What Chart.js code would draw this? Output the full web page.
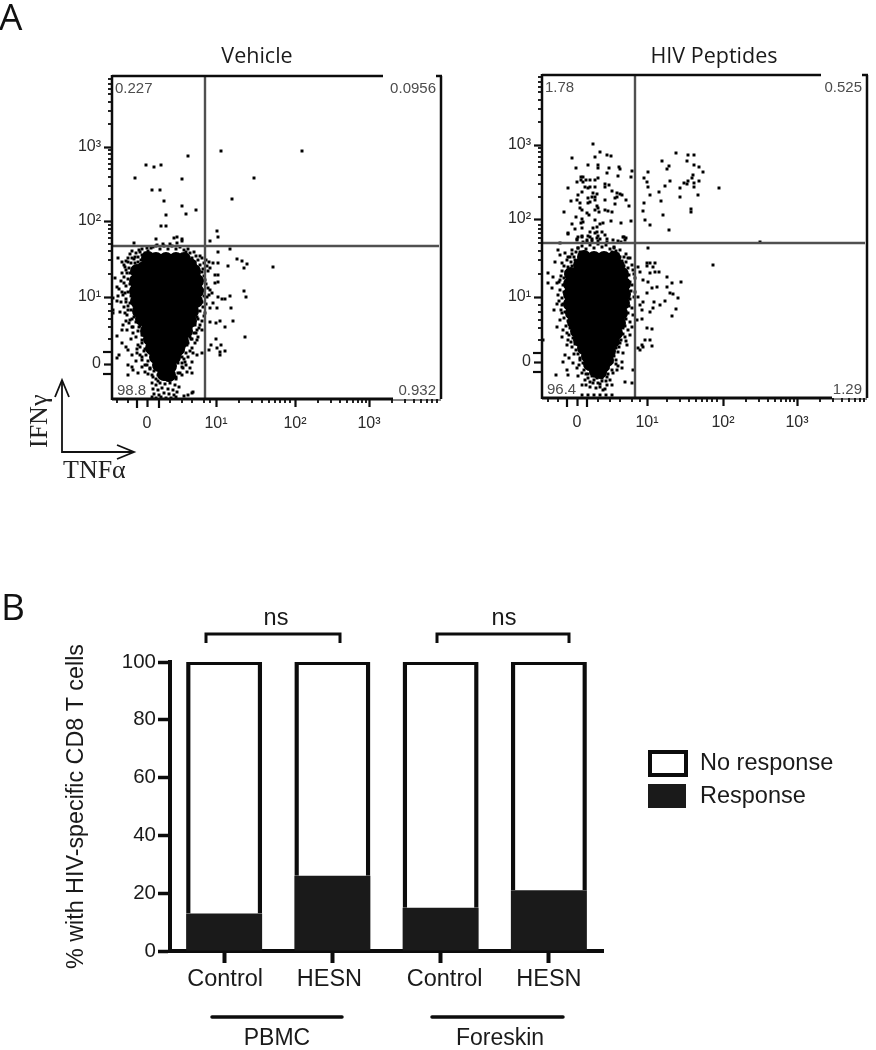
<!DOCTYPE html>
<html><head><meta charset="utf-8">
<script src="https://cdn.jsdelivr.net/npm/chart.js@4"></script>
<style>
html,body{margin:0;padding:0;background:#fff;width:876px;height:1050px;overflow:hidden}
canvas{position:absolute}
</style></head><body>
<canvas id="c1" style="left:0;top:0"></canvas>
<canvas id="c2" style="left:450px;top:0"></canvas>
<canvas id="c3" style="left:0;top:590px"></canvas>
<script>
// ---- Panel A: events in display channels (x = TNFa channel, y = IFNg channel)
const vehicleEvents=[[76,243],[109,248],[190,248],[34,234],[42,232],[49,234],[23,221],[70,220],[142,221],[40,209],[48,209],[120,200],[52,198],[70,193],[84,189],[74,185],[54,184],[49,173],[54,173],[105,168],[106,162],[44,160],[62,161],[65,162],[70,160],
[22,156],[70,158],[98,158],[45,154],[51,155],[58,155],[65,156],[106,147],[118,150],[97,137],[101,136],[106,136],[116,133],[125,140],[130,138],[135,135],[132,131],[161,132],[98,131],[103,124],[106,124],[106,117],[103,116],[98,109],[100,106],[132,108],[134,102],[118,103],[113,100],[110,100],[106,102],[101,96],[98,91],[105,91],[119,91],[121,78],[108,78],[104,76],[113,72],[98,77],[133,62],[104,60],[99,54],[109,54],[105,51],[113,48],[108,47],[108,44],[97,49],
[6,141],[10,137],[12,134],[10,126],[15,126],[3,121],[5,112],[12,116],[10,107],[13,106],[1,101],[5,98],[1,89],[1,86],[9,97],[14,97],[8,87],[13,86],[16,89],[18,79],[11,74],[10,69],[5,63],[15,69],[20,72],[21,66],[10,56],[14,52],[16,49],[5,41],[7,44],[20,44],[25,46],[26,54],[30,59],[31,64],[16,34],[20,32],[21,29],[16,24],[26,26],[33,27],[30,39],[35,34],[30,32],[28,147],[23,142],[16,137],[20,141],[13,132],[35,151],[41,152],[76,150],[82,147],[88,143],
[92,136],[90,127],[93,119],[88,112],[95,102],[91,92],[93,86],[85,82],[88,74],[90,69],[85,69],[81,79],[78,76],[85,59],[78,62],[90,46],[85,44],[81,46],[75,54],[80,51],[71,49],[76,42],[80,37],[73,37],[70,42],[78,31],[75,27],[71,31],[80,26],[68,26],[24,62],[27,72],[22,82],[19,60],[28,44],[33,50],[24,38],[38,30],[40,24],[70,36],[74,46],[80,60],[84,66],
[40,16],[44,14],[48,16],[53,15],[58,16],[63,14],[67,12],[41,10],[46,9],[50,11],[56,10],[61,9],[65,7],[42,5],[47,4],[52,6],[57,5],[62,4],[40,2],[44,1],[49,2],[54,1],[59,1],[64,2],[80,6],[76,4],[81,7],[72,3],[52,20],[56,19],[60,21],[48,22],[64,20],[46,18],
[20,148],[24,146],[27,149],[30,150],[18,145],[22,140],[26,142],[30,144],[33,146],[36,148],[16,141],[14,138],[19,136],[23,136],[26,137],[29,139],[17,131],[21,130],[24,132],[14,129],[18,126],[22,125],[25,128],[12,122],[16,120],[20,121],[23,118],[9,118],[14,113],[18,115],[21,112],[25,110],[7,110],[11,104],[16,107],[19,103],[23,102],[26,99],[6,103],[14,100],[18,96],[22,93],[25,91],[12,92],[16,93],[19,89],[23,85],[27,82],[15,84],[20,80],[24,77],[28,73],[17,76],[21,72],[26,68],[30,64],[14,78],[39,151],[44,153],[48,150],[52,153],[56,150],[60,153],[64,150],[68,152],
[72,149],[78,146],[84,143],[80,141],[74,147],[86,139],[90,141],[83,137],[88,134],[94,139],[86,130],[91,130],[95,133],[87,125],[92,123],[96,128],[88,119],[94,115],[87,112],[91,109],[96,111],[86,105],[92,103],[97,104],[85,99],[90,97],[94,95],[84,92],[88,88],[92,83],[82,86],[86,80],[90,78],[80,82],[83,74],[87,71],[79,72],[82,66],[86,62],[76,66],[79,60],[83,56],
[30,56],[33,60],[36,62],[28,52],[32,48],[36,54],[38,58],[25,50],[34,44],[38,46],[41,50],[30,42],[36,38],[40,40],[44,36],[33,34],[38,31],[42,28],[45,30],[36,25],[41,22],[46,24],[44,20],[48,26],[66,55],[70,58],[74,60],[68,48],[72,52],[76,56],[64,42],[68,44],[72,40],[78,48],[66,36],[70,32],[74,34],[62,30],[66,26],[60,26],[64,22],[70,24],[58,22]];
const vehicleCore=[[44,140],[54,140],[64,140],[36,141],[72,140],[32,131],[42,131],[52,131],[62,131],[72,131],[78,134],[25,128],[30,122],[40,122],[50,122],[60,122],[70,122],[78,122],[82,128],[24,118],[85,118],[30,113],[40,113],[50,113],[60,113],[70,113],[78,113],[24,108],[85,108],[30,104],[40,104],[50,104],[60,104],[70,104],[78,104],[25,98],[84,98],[32,95],[42,95],[52,95],[62,95],[72,95],[77,95],[27,88],[80,88],[33,86],[43,86],[53,86],[63,86],[73,86],[30,80],[78,78],[36,77],[46,77],[56,77],[66,77],[70,77],[35,68],[74,68],[40,68],[50,68],[60,68],[66,68],[38,60],[70,58],[44,59],[54,59],[62,59],[40,51],[66,50],[46,50],[56,50],[60,50],[44,42],[62,42],[49,41],[57,41],[47,34],[58,33],[52,33],[52,25],[57,24]];
const hivEvents=[[51,254],[58,246],[53,241],[30,240],[65,243],[69,242],[46,233],[56,233],[56,230],[34,230],[67,230],[77,231],[78,229],[90,227],[65,225],[76,222],[89,221],[39,221],[41,221],[39,218],[41,216],[35,216],[44,218],[48,218],[53,218],[56,220],[43,211],[48,211],[53,211],[63,214],[63,211],[67,213],[26,210],[40,206],[46,210],[36,203],[51,205],[55,204],[50,201],[53,201],[70,207],[75,205],[78,204],[80,203],[35,198],[46,200],[48,196],[53,198],[63,198],[73,200],[75,201],[29,197],[84,198],[38,195],[73,194],[46,195],[55,192],[56,190],[53,188],[87,192],[38,190],[40,188],[57,186],[63,188],[66,187],[70,186],[22,186],[45,185],[47,183],[34,181],[40,179],[39,175],[41,176],[53,178],[69,177],[79,175],[89,177],[30,174],[33,169],[40,170],[55,171],[58,174],[61,175],[26,165],[40,161],[36,161],[48,166],[51,170],[55,166],[60,166],[63,163],[48,161],[50,159],[55,160],[56,162],[65,159],[82,161],[84,160],[83,158],[35,158],[41,156],[45,156],
[106,226],[102,220],[105,216],[106,211],[108,203],[102,195],[101,187],[103,178],[108,173],[127,168],[120,237],[127,232],[125,229],[134,245],[146,243],[152,243],[145,237],[152,233],[157,231],[161,226],[151,223],[150,220],[157,217],[152,215],[146,217],[142,215],[145,214],[138,210],[152,211],[156,203],[177,210],[138,201],[128,217],[123,212],[117,206],[119,197],[121,183],[149,189],[149,186],[218,156],
[26,164],[40,162],[35,159],[45,158],[50,157],[56,157],[65,156],[71,158],[76,157],[46,162],[53,165],[58,159],[79,156],[81,161],[18,155],[106,150],[171,133],
[105,135],[108,135],[113,135],[105,132],[111,131],[113,126],[117,126],[108,125],[101,118],[106,116],[125,121],[130,115],[139,116],[125,111],[115,111],[110,110],[105,105],[128,105],[131,104],[136,100],[123,97],[118,93],[112,96],[111,90],[108,86],[100,88],[101,96],[96,101],[98,93],[130,82],[134,89],[100,79],[110,69],[108,58],[110,52],[103,58],[100,53],[96,50],[98,48],[101,51],[105,70],[95,78],[90,71],[91,83],[90,90],[91,128],[96,131],[98,126],[93,120],[90,113],[93,106],
[16,148],[18,143],[13,136],[23,145],[26,141],[20,135],[6,125],[11,121],[6,115],[10,110],[15,115],[18,118],[15,94],[12,88],[20,93],[20,85],[18,78],[15,71],[21,68],[25,65],[20,61],[26,58],[25,53],[30,51],[1,58],[23,43],[21,36],[27,40],[31,35],[25,28],[14,23],[26,23],[35,30],[40,25],[43,18],[40,13],[48,11],[58,11],[65,13],[51,15],[70,13],[65,21],[71,25],[75,28],[83,16],[90,15],[91,28],[80,30],[81,45],[85,53],[83,61],[88,63],[81,70],[78,55],[30,148],[36,150],[72,150],[78,148],[84,144],[88,140],[32,44],[38,40],[36,22],[46,24],[60,17],[55,20],[74,38],[76,32],[80,36],[33,60],[36,66],[40,3],[46,3],[52,3],[58,3],[64,3],[70,3],
[36,150],[40,152],[44,149],[48,153],[52,150],[56,154],[60,151],[64,153],[68,149],[72,151],[34,146],[38,146],[42,146],[70,146],[74,147],[76,144],[30,144],[28,141],[32,141],[78,141],[82,141],[25,138],[29,136],[33,138],[80,137],[84,136],[86,140],
[22,132],[26,131],[30,132],[20,127],[24,126],[28,128],[19,122],[22,120],[26,122],[29,119],[17,116],[21,113],[25,115],[28,112],[18,108],[22,106],[26,108],[29,105],[16,103],[20,100],[24,101],[28,98],[17,97],[21,94],[25,93],[28,90],[19,88],[23,86],[27,84],[30,81],[22,80],[26,77],[29,75],[24,72],[28,70],[32,67],[27,63],[31,60],[35,62],[29,56],[33,54],[37,56],
[82,132],[86,130],[90,133],[83,126],[87,123],[92,124],[84,118],[88,116],[85,110],[89,107],[84,103],[88,99],[92,101],[83,95],[87,92],[82,88],[86,85],[80,83],[84,79],[88,76],[79,76],[83,72],[86,68],[77,70],[81,64],[76,63],[79,58],[84,57],[74,56],[77,51],
[34,48],[38,50],[42,53],[36,44],[40,46],[44,48],[38,38],[42,41],[46,38],[37,33],[41,35],[45,32],[42,28],[47,29],[44,24],[49,26],[46,20],[50,22],[54,24],[52,18],[56,15],[48,16],[44,13],[54,10],[61,8],[66,50],[70,48],[74,50],[68,44],[72,42],[76,46],[66,38],[70,36],[74,34],[62,32],[66,30],[70,28],[60,28],[62,24],[66,24],[60,20],[64,17],[68,18],[57,24],[58,14],[63,9]];
const hivCore=[[52,140],[62,140],[42,141],[72,140],[38,133],[48,133],[58,133],[68,133],[76,132],[29,124],[80,124],[36,124],[46,124],[56,124],[66,124],[74,124],[28,114],[82,114],[35,115],[45,115],[55,115],[65,115],[75,115],[28,104],[82,104],[35,106],[45,106],[55,106],[65,106],[75,106],[28,94],[81,95],[35,97],[45,97],[55,97],[65,97],[75,97],[30,85],[79,85],[37,88],[47,88],[57,88],[67,88],[74,88],[32,76],[77,75],[38,79],[48,79],[58,79],[68,79],[73,79],[35,67],[74,65],[40,70],[50,70],[60,70],[70,70],[38,58],[71,57],[43,61],[53,61],[63,61],[68,61],[42,50],[67,47],[48,52],[58,52],[62,52],[46,42],[65,38],[52,43],[60,43],[48,34],[61,32],[55,35],[54,27],[58,26]];

// ---- Panel A: tick positions (channels) and tick labels
const tickLabels=['0','10¹','10²','10³'];
const vehicleXMajor=[35,104,183,257], vehicleYMajor=[35,102,178,252];
const hivXMajor=[35,105,181,255],     hivYMajor=[36,101,179,253];
const vehicleXCluster=[25,47], vehicleYCluster=[25,47];
const hivXCluster=[25,45],     hivYCluster=[26,45];
const vehicleXMinor=[5,16,58,70,80,92,98,127,140,150,157,163,168,173,178,206,219,228,235,241,246,250,254,280,293,302,309,315,320,325];
const vehicleYMinor=[60,72,80,88,95,125,139,148,155,161,166,170,174,200,213,222,230,235,240,245,249,275,288,297,305,310,315,320];
const hivXMinor=[6,16,56,68,78,90,98,125,138,147,154,160,165,170,175,204,217,226,233,239,244,248,252,278,291,300,307,313,318,322];
const hivYMinor=[58,70,78,86,93,124,138,147,155,160,165,169,173,201,214,223,231,236,241,246,250,276,289,298,306,311,316,321];

// ---- Panel B
const categories=['Control','HESN','Control','HESN'];
const responseValues=[13,26,15,21];
const noResponseValues=[87,74,85,79];
const yTicksB=[0,20,40,60,80,100];
const labelNudge=[1,-3,4,0];

const INK='#0c0c0c', SANS='"Liberation Sans",Arial,sans-serif', TITLE='"Open Sans",sans-serif', SERIF='"Liberation Serif",serif';
Chart.defaults.animation=false;
Chart.defaults.responsive=false;
function txt(c,s,x,y,font,color,align,rot){c.save();c.font=font;c.fillStyle=color||INK;c.textAlign=align||'left';c.textBaseline='alphabetic';c.translate(x,y);if(rot)c.rotate(rot);c.fillText(s,0,0);c.restore();}
function seg(c,x1,y1,x2,y2,w,color){c.strokeStyle=color||INK;c.lineWidth=w;c.beginPath();c.moveTo(x1,y1);c.lineTo(x2,y2);c.stroke();}

function flowChart(id,w,h,cfg){
  const canvas=document.getElementById(id);canvas.width=w;canvas.height=h;
  const decor={id:'decor',afterDatasetsDraw(ch){
    const c=ch.ctx,a=ch.chartArea,X=ch.scales.x,Y=ch.scales.y;c.save();c.lineCap='butt';
    cfg.xMinor.forEach(v=>{const p=X.getPixelForValue(v);seg(c,p,a.bottom,p,a.bottom+4,1.8);});
    cfg.yMinor.forEach(v=>{const p=Y.getPixelForValue(v);seg(c,a.left,p,a.left-4,p,1.8);});
    cfg.xCluster.forEach(v=>{const p=X.getPixelForValue(v);seg(c,p,a.bottom,p,a.bottom+9,2.2);});
    cfg.yCluster.forEach(v=>{const p=Y.getPixelForValue(v);seg(c,a.left,p,a.left-9,p,2.2);});
    const gx=X.getPixelForValue(cfg.gateX),gy=Y.getPixelForValue(cfg.gateY);
    seg(c,gx,a.top,gx,a.bottom,2.4,'#505050');
    seg(c,a.left,gy,a.right-2,gy,2.4,'#505050');
    seg(c,a.left,a.top-1,a.left,a.bottom+1,2.5);
    seg(c,a.left,a.top,cfg.topEnd,a.top,2.5);
    seg(c,a.right-5,a.top,a.right+1,a.top,2.5);
    seg(c,a.right,a.top,a.right,a.bottom,2.5);
    seg(c,a.left,a.bottom,cfg.bottomEnd,a.bottom,3);
    seg(c,cfg.bottomEnd,a.bottom+1,a.right,a.bottom+1,1);
    const F='15px '+SANS,G='#4d4d4d';
    c.font=F;
    const wl=c.measureText(cfg.q[2]).width;
    c.fillStyle='#fff';c.fillRect(a.left+3,a.bottom-18,wl+6,16);
    txt(c,cfg.q[0],a.left+3,a.top+17,F,G);
    txt(c,cfg.q[1],a.right-5,a.top+17,F,G,'right');
    txt(c,cfg.q[2],a.left+5,a.bottom-4,F,G);
    txt(c,cfg.q[3],a.right-5,a.bottom-4,F,G,'right');
    txt(c,cfg.title,(a.left+a.right)/2+cfg.titleShift,63,'21.5px '+TITLE,'#1a1a1a','center');
    if(cfg.extra)cfg.extra(c);
    c.restore();
  }};
  const mk=(maj)=>(scale)=>{scale.ticks=maj.map(v=>({value:v}));};
  const axisCommon=(maj,min,max,pos)=>({type:'linear',min,max,position:pos,
    grid:{drawOnChartArea:false,drawTicks:true,tickLength:8,tickWidth:2.2,tickColor:INK},
    border:{display:false},afterBuildTicks:mk(maj),
    ticks:{autoSkip:false,maxRotation:0,color:'#2a2a2a',font:{size:16,family:SANS},padding:pos==='bottom'?7:3,
      callback:(v)=>tickLabels[maj.indexOf(v)]??''}});
  const xa=axisCommon(cfg.xMajor,0,cfg.xMax,'bottom'), ya=axisCommon(cfg.yMajor,0,cfg.yMax,'left');
  xa.afterFit=s=>{s.height=cfg.axisH};ya.afterFit=s=>{s.width=cfg.axisW};
  return new Chart(canvas,{type:'scatter',
    data:{datasets:[
      {label:'Dense events',data:cfg.core,pointRadius:7,pointHoverRadius:7,backgroundColor:'#000',borderWidth:0},
      {label:'Events',data:cfg.events,pointStyle:'rect',pointRadius:2.1,pointHoverRadius:2.1,backgroundColor:'#000',borderWidth:0}]},
    options:{layout:{padding:{top:cfg.padTop,right:cfg.padRight,left:0,bottom:0}},
      plugins:{legend:{display:false},tooltip:{enabled:false},title:{display:false}},
      scales:{x:xa,y:ya}},
    plugins:[decor]});
}

flowChart('c1',450,490,{core:vehicleCore,events:vehicleEvents,xMajor:vehicleXMajor,yMajor:vehicleYMajor,xMinor:vehicleXMinor,yMinor:vehicleYMinor,xCluster:vehicleXCluster,yCluster:vehicleYCluster,
  xMax:329,yMax:323,axisW:112,axisH:91,padTop:76,padRight:9,gateX:93,gateY:153,topEnd:383,bottomEnd:393,q:['0.227','0.0956','98.8','0.932'],title:'Vehicle',titleShift:-19.5,
  extra(c){
    txt(c,'A',-1,30,'37px '+TITLE,'#111');
    c.lineWidth=1.8;c.strokeStyle='#111';
    c.beginPath();c.moveTo(62,380);c.lineTo(62,452);c.lineTo(134,452);c.stroke();
    c.beginPath();c.moveTo(55,397);c.lineTo(62,380);c.lineTo(69,397);c.stroke();
    c.beginPath();c.moveTo(117,445);c.lineTo(134,452);c.lineTo(117,459);c.stroke();
    txt(c,'IFNγ',47,448,'26px '+SERIF,'#222','left',-Math.PI/2);
    txt(c,'TNFα',63,478,'26px '+SERIF,'#222');
  }});
flowChart('c2',426,490,{core:hivCore,events:hivEvents,xMajor:hivXMajor,yMajor:hivYMajor,xMinor:hivXMinor,yMinor:hivYMinor,xCluster:hivXCluster,yCluster:hivYCluster,
  xMax:325,yMax:323,axisW:92,axisH:92,padTop:75,padRight:9,gateX:93,gateY:155,topEnd:371,bottomEnd:382,q:['1.78','0.525','96.4','1.29'],title:'HIV Peptides',titleShift:9.5});

const barDecor={id:'barDecor',afterDraw(ch){
  const c=ch.ctx;c.save();c.lineCap='butt';
  const T='23.5px '+SANS;
  ch.data.labels.forEach((s,i)=>txt(c,s,ch.scales.x.getPixelForValue(i)+labelNudge[i],396,T,'#1a1a1a','center'));
  const bracket=(x1,x2)=>{c.strokeStyle=INK;c.lineWidth=3;c.beginPath();c.moveTo(x1,53);c.lineTo(x1,44);c.lineTo(x2,44);c.lineTo(x2,53);c.stroke();};
  bracket(206,340);bracket(437,569);
  txt(c,'ns',276,35,T,'#1a1a1a','center');txt(c,'ns',504,35,T,'#1a1a1a','center');
  c.lineCap='round';seg(c,212,427,342,427,3.5);seg(c,432,427,563,427,3.5);c.lineCap='butt';
  txt(c,'PBMC',277,455,'23px '+SANS,'#1a1a1a','center');
  txt(c,'Foreskin',500,455,'23px '+SANS,'#1a1a1a','center');
  c.fillStyle='#fff';c.fillRect(650,162,36,22);c.strokeStyle=INK;c.lineWidth=4;c.strokeRect(650,162,36,23);
  c.fillStyle='#1a1a1a';c.fillRect(648,194,38,24);
  txt(c,ch.data.datasets[1].label,700,180,T,'#1a1a1a');
  txt(c,ch.data.datasets[0].label,700,213,T,'#1a1a1a');
  txt(c,'B',1,30,'37px '+TITLE,'#111');
  c.restore();
}};
const c3=document.getElementById('c3');c3.width=876;c3.height=460;
new Chart(c3,{type:'bar',
  data:{labels:categories,datasets:[
    {label:'Response',data:responseValues,backgroundColor:'#1a1a1a',borderWidth:0,barPercentage:0.702,categoryPercentage:1},
    {label:'No response',data:noResponseValues,backgroundColor:'#fff',borderColor:INK,borderWidth:{top:3,left:4.5,right:4.5,bottom:0},barPercentage:0.702,categoryPercentage:1}]},
  options:{layout:{padding:{top:72,right:273,left:0,bottom:0}},
    plugins:{legend:{display:false},tooltip:{enabled:false},title:{display:false}},
    scales:{
      x:{stacked:true,afterFit:s=>{s.height=99},
        grid:{drawOnChartArea:false,tickLength:12,tickWidth:4,tickColor:INK,offset:false},
        border:{display:true,width:4,color:INK},
        ticks:{display:false}},
      y:{stacked:true,min:0,max:100,afterFit:s=>{s.width=170},afterBuildTicks:s=>{s.ticks=yTicksB.map(v=>({value:v}))},
        grid:{drawOnChartArea:false,tickLength:12,tickWidth:3.5,tickColor:INK},
        border:{display:true,width:4,color:INK},
        title:{display:true,text:'% with HIV-specific CD8 T cells',color:'#1a1a1a',font:{size:23.3,family:SANS},padding:{top:63,bottom:0}},
        ticks:{color:'#1a1a1a',font:{size:20.5,family:SANS},padding:2}}
    }},
  plugins:[barDecor]});
</script>
</body></html>
